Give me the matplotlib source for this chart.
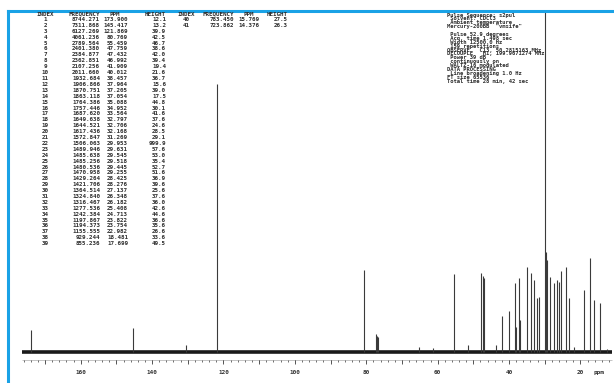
import matplotlib.pyplot as plt
import numpy as np

# peak table printed on the spectrum
idx = list(range(1, 42))
freq = ["8744.271", "7311.868", "6127.269", "4061.236", "2789.564", "2401.380",
        "2384.877", "2362.851", "2107.256", "2011.660", "1932.684", "1906.866",
        "1870.751", "1863.118", "1764.386", "1757.446", "1687.620", "1649.638",
        "1644.521", "1617.436", "1572.847", "1506.063", "1489.946", "1485.638",
        "1485.256", "1480.536", "1470.958", "1429.264", "1421.706", "1364.514",
        "1324.840", "1316.467", "1277.536", "1242.384", "1197.867", "1194.373",
        "1155.555", "929.244", "855.236", "783.450", "723.862"]
ppm_tab = ["173.900", "145.417", "121.869", "80.769", "55.459", "47.759",
           "47.432", "46.992", "41.909", "40.012", "38.457", "37.964",
           "37.205", "37.054", "35.088", "34.952", "33.564", "32.797",
           "32.706", "32.168", "31.269", "29.953", "29.631", "29.545",
           "29.518", "29.445", "29.255", "28.425", "28.276", "27.137",
           "26.348", "26.182", "25.408", "24.713", "23.822", "23.754",
           "22.982", "18.481", "17.699", "15.769", "14.376"]
height_tab = ["12.1", "13.2", "39.9", "42.5", "46.7", "38.6", "42.0", "39.4",
              "19.4", "21.6", "36.7", "15.6", "39.0", "17.5", "44.8", "30.1",
              "41.6", "37.6", "24.6", "28.5", "29.1", "999.9", "57.6", "53.0",
              "35.4", "52.7", "51.6", "36.9", "39.6", "25.6", "37.6", "36.0",
              "42.6", "44.6", "36.6", "35.6", "26.6", "33.6", "49.5", "27.5",
              "26.3"]

params = ["Pulse Sequence: s2pul",
          " Solvent: CDCl3",
          " Ambient temperature",
          "Mercury-200BB  \"vmsife\"",
          "",
          " Pulse 52.9 degrees",
          " Acq. time 1.498 sec",
          " Width 12500.0 Hz",
          " 159 repetitions",
          "OBSERVE   C13, 50.2815163 MHz",
          "DECOUPLE   H1, 199.9671274 MHz",
          " Power 39 dB",
          " continuously on",
          " WALTZ-16 modulated",
          "DATA PROCESSING",
          " Line broadening 1.0 Hz",
          "FT size 65536",
          "Total time 28 min, 42 sec"]

# spectrum lines (ppm, relative intensity)
peak_ppm = [173.9, 145.4, 130.4, 121.87, 80.77, 77.4, 77.0, 76.6, 65.3, 61.3,
            55.46, 51.5, 47.76, 47.43, 46.99, 43.7, 41.91, 40.01, 38.46, 37.96,
            37.2, 37.05, 35.09, 33.9, 33.05, 32.3, 31.6, 29.95, 29.6, 29.5,
            28.6, 27.4, 26.7, 26.0, 25.5, 24.1, 23.2, 21.8, 19.0, 17.2, 16.1,
            14.6, 12.5]
peak_int = [6.3, 6.8, 2.0, 76.0, 23.3, 5.0, 4.6, 4.2, 1.5, 1.2,
            22.2, 2.0, 22.4, 21.5, 21.0, 2.0, 10.2, 11.6, 19.7, 7.0,
            21.0, 9.0, 24.2, 22.5, 20.5, 15.3, 15.7, 96.5, 28.5, 26.0,
            21.4, 19.6, 20.5, 20.0, 23.1, 24.1, 15.3, 1.4, 17.6, 26.6, 14.8,
            14.0, 1.0]

spec_lo, spec_hi = 11.2, 176.5
tick_labels = [160, 140, 120, 100, 80, 60, 40, 20]

W, H = 614, 383
fig = plt.figure(figsize=(W / 100, H / 100), dpi=100)
ax = fig.add_axes([0, 0, 1, 1])
ax.set_xlim(182.6, 10.6)
ax.set_ylim(-8.8, 100)
ax.axis("off")

def px(x, y):
    return x / W, 1 - y / H

# border
blue = "#1aa2e6"
fig.add_artist(plt.Line2D([8 / W, 1], [1 - 11 / H] * 2, color=blue, lw=2.2))
fig.add_artist(plt.Line2D([8 / W] * 2, [0, 1 - 11 / H], color=blue, lw=2.2))

# spectrum
ax.hlines(0, spec_lo, spec_hi, color="#1a1a1a", lw=2.6)
ax.vlines(peak_ppm, 0, peak_int, color="#3a3a3a", lw=0.8)

# ppm axis
ax.hlines(-2.3, spec_lo, spec_hi, color="#999999", lw=0.4)
minor = np.arange(12, 177, 2)
ax.vlines(minor, -2.3, -2.9, color="#555555", lw=0.6)
major = np.arange(20, 177, 10)
ax.vlines(major, -2.3, -3.3, color="#555555", lw=0.7)
for t in tick_labels:
    ax.text(t, -5.7, str(t), ha="center", va="center", fontsize=4.3,
            family="DejaVu Sans Mono", weight="bold", color="#333333")
ax.text(14.8, -5.7, "ppm", ha="center", va="center", fontsize=4.3,
        family="DejaVu Sans Mono", weight="bold", color="#333333")

# peak table
tk = dict(fontsize=4.2, family="DejaVu Sans Mono", weight="bold",
          color="#2e2e2e", va="center")
heads = [(45, "INDEX", "center"), (100, "FREQUENCY", "right"),
         (109, "PPM", "left"), (166, "HEIGHT", "right"), (186, "INDEX", "center"),
         (234, "FREQUENCY", "right"), (244, "PPM", "left"), (288, "HEIGHT", "right")]
for x, s, a in heads:
    fig.text(*px(x, 14), s, ha=a, **tk)
for i in range(len(idx)):
    if i < 39:
        y, cx = 19.5 + i * 5.9, (45, 100, 128, 166)
    else:
        y, cx = 19.5 + (i - 39) * 5.9, (186, 234, 259, 288)
    fig.text(*px(cx[0], y), str(idx[i]), ha="center", **tk)
    fig.text(*px(cx[1], y), freq[i], ha="right", **tk)
    fig.text(*px(cx[2], y), ppm_tab[i], ha="right", **tk)
    fig.text(*px(cx[3], y), height_tab[i], ha="right", **tk)

# acquisition parameters
for j, line in enumerate(params):
    fig.text(*px(447, 15 + j * 3.9), line, ha="left", fontsize=4.0,
             family="DejaVu Sans Mono", weight="bold", color="#2e2e2e", va="center")

fig.savefig("out.png", dpi=100, facecolor="white")
